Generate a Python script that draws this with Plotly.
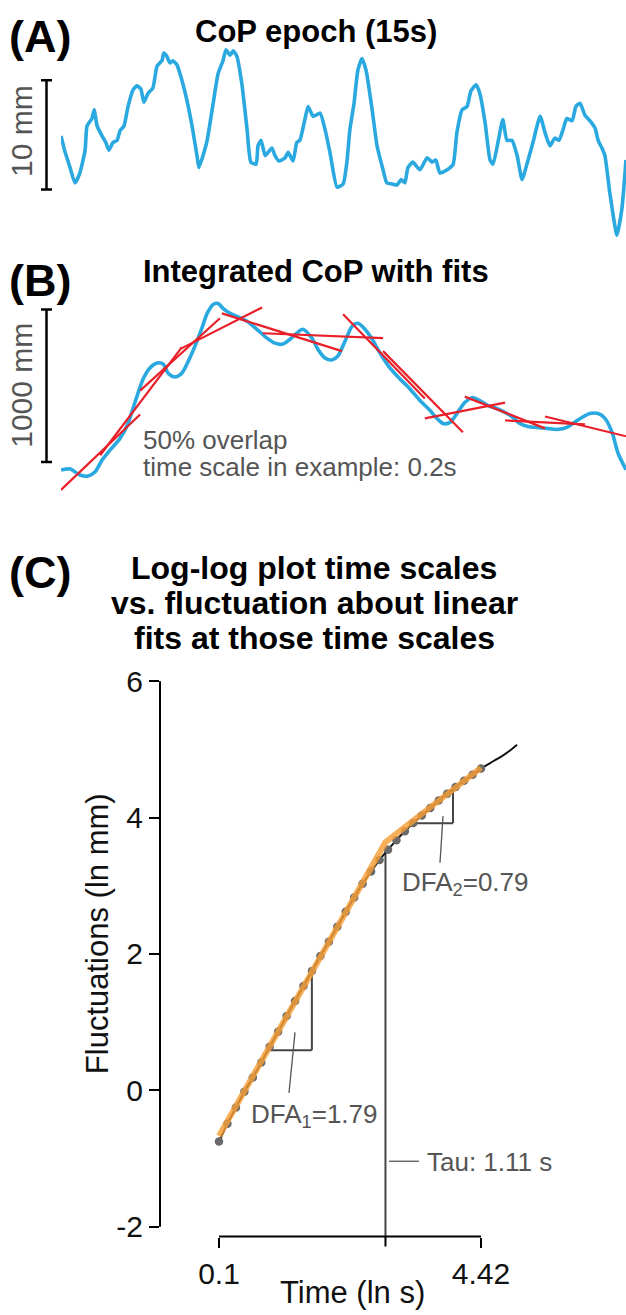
import numpy as np
import plotly.graph_objects as go

W, H = 626, 1315
FONT = "Liberation Sans, Arial, Helvetica, sans-serif"
BLUE = "#2AA8E0"
RED = "#E8202A"
ORANGE = "rgba(246,158,52,0.82)"
GREY_TXT = "#555555"

# ---------------- (A) raw CoP epoch ----------------
cop_t = [0.00, 0.11, 0.24, 0.37, 0.50, 0.64, 0.69, 0.82, 0.88, 0.96, 1.09, 1.19, 1.27, 1.38,
         1.49, 1.57, 1.67, 1.78, 1.91, 2.02, 2.12, 2.20, 2.31, 2.44, 2.55, 2.68, 2.73, 2.81,
         2.89, 2.97, 3.08, 3.21, 3.34, 3.48, 3.61, 3.66, 3.77, 3.88, 4.04, 4.17, 4.30, 4.38,
         4.49, 4.57, 4.67, 4.80, 4.94, 5.04, 5.18, 5.23, 5.31, 5.42, 5.50, 5.60, 5.68, 5.79,
         5.95, 6.03, 6.16, 6.26, 6.34, 6.48, 6.56, 6.69, 6.77, 6.88, 7.01, 7.14, 7.33, 7.49,
         7.59, 7.67, 7.78, 7.88, 7.99, 8.10, 8.26, 8.39, 8.55, 8.65, 8.79, 8.92, 9.03, 9.13,
         9.21, 9.34, 9.53, 9.72, 9.85, 9.95, 10.06, 10.25, 10.41, 10.51, 10.65, 10.78, 10.88,
         11.02, 11.12, 11.26, 11.39, 11.47, 11.60, 11.73, 11.84, 11.97, 12.11, 12.24, 12.40,
         12.53, 12.72, 12.85, 12.98, 13.11, 13.22, 13.33, 13.43, 13.57, 13.67, 13.78, 13.91,
         14.04, 14.18, 14.26, 14.36, 14.44, 14.57, 14.76, 14.89, 15.00]
cop_mm = [-0.1, -1.6, -3.0, -4.4, -3.5, -1.4, 0.8, 1.5, 2.3, 0.8, -0.1, -0.7, -1.4, -0.7,
          -0.5, 0.4, 0.8, 2.6, 4.1, 4.5, 4.2, 3.0, 3.8, 4.3, 6.3, 6.8, 7.5, 7.2,
          6.6, 6.8, 6.4, 5.0, 3.2, 0.8, -1.9, -3.0, -1.9, -0.5, 2.9, 5.6, 6.8, 7.8,
          7.3, 7.7, 7.2, 4.7, 0.5, -2.5, -2.7, -1.0, -0.5, -1.9, -1.6, -1.2, -1.9, -2.4,
          -2.1, -1.6, -2.4, -0.7, -0.5, 1.5, 2.6, 1.7, 1.8, 2.0, 0.5, -1.6, -4.8, -4.5,
          -2.5, 0.5, 2.9, 5.9, 7.0, 5.9, 2.3, -1.0, -3.2, -4.4, -4.5, -4.6, -4.1, -4.4,
          -3.0, -2.5, -3.2, -2.1, -2.5, -2.3, -3.5, -3.2, -2.7, 0.2, 2.3, 2.6, 4.0,
          4.6, 3.8, 1.1, -2.3, -2.7, -0.7, 1.4, -0.5, -0.5, -1.9, -4.1, -2.3,
          -0.7, 1.7, 0.2, -1.0, -0.3, -0.5, 0.5, 1.5, 1.3, 2.6, 2.9, 1.8,
          1.3, 0.6, -0.5, -1.2, -1.9, -5.3, -9.2, -6.8, -2.3]

# ---------------- (B) integrated CoP ----------------
int_t = [0.00, 0.24, 0.50, 0.72, 0.90, 1.09, 1.30, 1.57, 1.78, 1.91, 2.04, 2.18, 2.36, 2.55,
         2.71, 2.84, 3.03, 3.21, 3.42, 3.61, 3.74, 3.88, 4.04, 4.17, 4.30, 4.49, 4.67, 4.94,
         5.20, 5.47, 5.68, 5.89, 6.08, 6.26, 6.42, 6.66, 6.82, 7.01, 7.19, 7.35, 7.54, 7.73,
         7.88, 8.07, 8.26, 8.47, 8.73, 9.00, 9.26, 9.53, 9.80, 9.98, 10.14, 10.33, 10.51,
         10.72, 10.91, 11.12, 11.34, 11.57, 11.79, 12.00, 12.18, 12.40, 12.64, 12.90, 13.17,
         13.43, 13.59, 13.83, 14.04, 14.26, 14.44, 14.63, 14.79, 15.00]
int_mm = [-52, -45, -84, -91, -65, 13, 78, 156, 253, 351, 448, 545, 617, 649,
          643, 584, 558, 584, 682, 792, 877, 974, 1033, 1039, 1007, 974, 955, 922,
          870, 812, 779, 773, 805, 844, 870, 812, 740, 682, 669, 695, 792, 890,
          909, 870, 805, 714, 617, 545, 481, 403, 338, 286, 253, 260, 318,
          390, 422, 403, 370, 351, 325, 292, 253, 234, 227, 221, 214,
          227, 253, 292, 318, 318, 286, 195, 58, -50]

# linear fits in overlapping windows: (start t, start value) -> (end t, end value)
fit_t0 = [0.00, 1.04, 2.10, 3.16, 4.27, 5.36, 7.49, 8.55, 9.66, 10.72, 11.79, 12.85]
fit_v0 = [-182, 45, 468, 740, 974, 844, 968, 727, 286, 429, 273, 299]
fit_t1 = [2.10, 3.21, 4.22, 5.34, 7.46, 8.55, 9.66, 10.67, 11.79, 12.85, 13.91, 15.00]
fit_v1 = [312, 753, 942, 1013, 727, 812, 416, 195, 390, 221, 247, 169]

# ---------------- (C) DFA log-log ----------------
scale_ln_t = [-2.303, -2.181, -2.058, -1.936, -1.814, -1.692, -1.570, -1.448, -1.325, -1.203,
              -1.081, -0.959, -0.837, -0.714, -0.592, -0.470, -0.348, -0.226, -0.104, 0.019,
              0.141, 0.263, 0.385, 0.507, 0.630, 0.752, 0.874, 0.996, 1.118, 1.241, 1.363, 1.486]
fluct_ln = [-0.75, -0.49, -0.25, -0.02, 0.19, 0.41, 0.64, 0.86, 1.09, 1.31,
            1.53, 1.75, 1.97, 2.18, 2.40, 2.62, 2.83, 3.03, 3.21, 3.38,
            3.53, 3.67, 3.80, 3.92, 4.03, 4.14, 4.25, 4.35, 4.45, 4.54, 4.63, 4.72]
tail_ln_t = [1.60, 1.70, 1.80, 1.90, 2.007]
tail_ln = [4.79, 4.85, 4.91, 4.98, 5.07]

dfa1 = 1.79
dfa2 = 0.79
tau_s = 1.11
tau_fluct = 3.64
t_min_s, t_max_s = 0.1, 4.42
x_tick_s = [0.1, 4.42]
x_tick_text = ["0.1", "4.42"]
y_ticks = [-2, 0, 2, 4, 6]
y_tick_text = ["-2", "0", "2", "4", "6"]


def px(x):
    return x / W


def py(y):
    return 1 - y / H


fig = go.Figure()

# (A)
fig.add_trace(go.Scatter(x=cop_t, y=cop_mm, mode="lines",
                         line=dict(color=BLUE, width=3.6, shape="spline", smoothing=0.5),
                         xaxis="x", yaxis="y", hoverinfo="skip"))

# (B)
fig.add_trace(go.Scatter(x=int_t, y=int_mm, mode="lines",
                         line=dict(color=BLUE, width=3.6, shape="spline", smoothing=0.8),
                         xaxis="x2", yaxis="y2", hoverinfo="skip"))
fx, fy = [], []
for a, b, c, d in zip(fit_t0, fit_v0, fit_t1, fit_v1):
    fx += [a, c, None]
    fy += [b, d, None]
fig.add_trace(go.Scatter(x=fx, y=fy, mode="lines", line=dict(color=RED, width=2.2),
                         xaxis="x2", yaxis="y2", hoverinfo="skip"))

# (C)
ln_tau = np.log(tau_s)
ln_tmin, ln_tmax = np.log(t_min_s), np.log(t_max_s)
fig.add_trace(go.Scatter(x=scale_ln_t + tail_ln_t, y=fluct_ln + tail_ln, mode="lines",
                         line=dict(color="#111111", width=2, shape="spline", smoothing=0.6),
                         xaxis="x3", yaxis="y3", hoverinfo="skip"))
fig.add_trace(go.Scatter(x=scale_ln_t, y=fluct_ln, mode="markers",
                         marker=dict(color="#6a6a6a", size=8.5),
                         xaxis="x3", yaxis="y3", hoverinfo="skip"))
fit_x = [ln_tmin, ln_tau, ln_tmax]
fit_y = [tau_fluct + dfa1 * (ln_tmin - ln_tau), tau_fluct, tau_fluct + dfa2 * (ln_tmax - ln_tau)]
fig.add_trace(go.Scatter(x=fit_x, y=fit_y, mode="lines", line=dict(color=ORANGE, width=6),
                         xaxis="x3", yaxis="y3", hoverinfo="skip"))

yr3 = [-2.145, 6.189]
C_TOP, C_BOT = 670, 1243

shapes = []
# scale bars
for ref, lo, hi in [("y", -5, 5), ("y2", 0, 1000)]:
    shapes.append(dict(type="line", xref="paper", yref=ref, x0=px(46.5), x1=px(46.5), y0=lo, y1=hi,
                       line=dict(color="black", width=2.5)))
    for v in (lo, hi):
        shapes.append(dict(type="line", xref="paper", yref=ref, x0=px(41), x1=px(52), y0=v, y1=v,
                           line=dict(color="black", width=2.5)))

# axis lines for (C)
shapes.append(dict(type="line", xref="x3 domain", yref="y3", x0=0, x1=0, y0=-2, y1=6,
                   line=dict(color="black", width=2)))
shapes.append(dict(type="line", xref="x3", yref="y3 domain", x0=ln_tmin, x1=ln_tmax, y0=0, y1=0,
                   line=dict(color="black", width=2)))
# tick at tau on the time axis
shapes.append(dict(type="line", xref="x3", yref="y3 domain", x0=ln_tau, x1=ln_tau,
                   y0=0, y1=-10 / (C_BOT - C_TOP), line=dict(color="black", width=2)))
# tau marker
shapes.append(dict(type="line", xref="x3", yref="y3", x0=ln_tau, x1=ln_tau, y0=yr3[0], y1=3.5,
                   line=dict(color="#444444", width=2), layer="below"))


def slope_triangle(xa, xb, slope):
    ya = tau_fluct + slope * (xa - ln_tau)
    yb = tau_fluct + slope * (xb - ln_tau)
    return [
        dict(type="line", xref="x3", yref="y3", x0=xa, x1=xb, y0=ya, y1=ya,
             line=dict(color="#444444", width=2), layer="below"),
        dict(type="line", xref="x3", yref="y3", x0=xb, x1=xb, y0=ya, y1=yb,
             line=dict(color="#444444", width=2), layer="below"),
    ]


shapes += slope_triangle(-1.60, -0.96, dfa1)
shapes += slope_triangle(0.458, 1.081, dfa2)

# leader lines for the labels
for (x0, y0, x1, y1) in [(295, 1037, 289, 1098), (443, 819, 440, 866), (389, 1167, 419, 1167)]:
    shapes.append(dict(type="line", xref="paper", yref="paper", x0=px(x0), x1=px(x1),
                       y0=py(y0), y1=py(y1), line=dict(color="#555555", width=1.3)))

annotations = []


def text(s, x, y, size, color="black", xanchor="center", angle=0):
    annotations.append(dict(text=s, x=px(x), y=py(y), xref="paper", yref="paper",
                            xanchor=xanchor, yanchor="middle", showarrow=False,
                            textangle=angle, font=dict(family=FONT, size=size, color=color)))


text("<b>(A)</b>", 40, 33, 45)
text("<b>CoP epoch (15s)</b>", 316, 28, 31)
text("10 mm", 22, 128, 30, GREY_TXT, angle=-90)

text("<b>(B)</b>", 40, 279, 45)
text("<b>Integrated CoP with fits</b>", 316, 270, 31)
text("1000 mm", 22, 385, 30, GREY_TXT, angle=-90)
text("50% overlap", 141, 440, 26, GREY_TXT, xanchor="left")
text("time scale in example: 0.2s", 141, 467, 26, GREY_TXT, xanchor="left")

text("<b>(C)</b>", 40, 573, 45)
text("<b>Log-log plot time scales</b>", 314, 569, 32)
text("<b>vs. fluctuation about linear</b>", 314, 604, 32)
text("<b>fits at those time scales</b>", 314, 639, 32)

text("DFA<sub>1</sub>=1.79", 249, 1121, 26, GREY_TXT, xanchor="left")
text("DFA<sub>2</sub>=0.79", 400, 887, 26, GREY_TXT, xanchor="left")
text("Tau: 1.11 s", 425, 1168, 26, GREY_TXT, xanchor="left")

text("Fluctuations (ln mm)", 97, 937, 31, "#111111", angle=-90)
text("Time (ln s)", 352, 1299, 31, "#111111")

fig.update_layout(
    width=W, height=H, margin=dict(l=0, r=0, t=0, b=0),
    paper_bgcolor="white", plot_bgcolor="white", showlegend=False,
    font=dict(family=FONT),
    xaxis=dict(domain=[px(61), 1], range=[0, 15], visible=False),
    yaxis=dict(domain=[py(240), py(40)], range=[-9.82, 8.36], visible=False),
    xaxis2=dict(domain=[px(61), 1], range=[0, 15], visible=False, anchor="y2"),
    yaxis2=dict(domain=[py(500), py(290)], range=[-247, 1117], visible=False, anchor="x2"),
    xaxis3=dict(domain=[px(160), px(560)], range=[-3.156, 2.628], anchor="y3",
                tickvals=list(np.log(x_tick_s)), ticktext=x_tick_text,
                ticks="outside", ticklen=10, tickwidth=2, tickcolor="black",
                showline=False, showgrid=False, zeroline=False,
                tickfont=dict(family=FONT, size=30, color="#111111")),
    yaxis3=dict(domain=[py(C_BOT), py(C_TOP)], range=yr3, anchor="x3",
                tickvals=y_ticks, ticktext=y_tick_text,
                ticks="outside", ticklen=10, tickwidth=2, tickcolor="black",
                showline=False, showgrid=False, zeroline=False,
                tickfont=dict(family=FONT, size=30, color="#111111")),
    shapes=shapes, annotations=annotations,
)

fig.write_html("out.html")
